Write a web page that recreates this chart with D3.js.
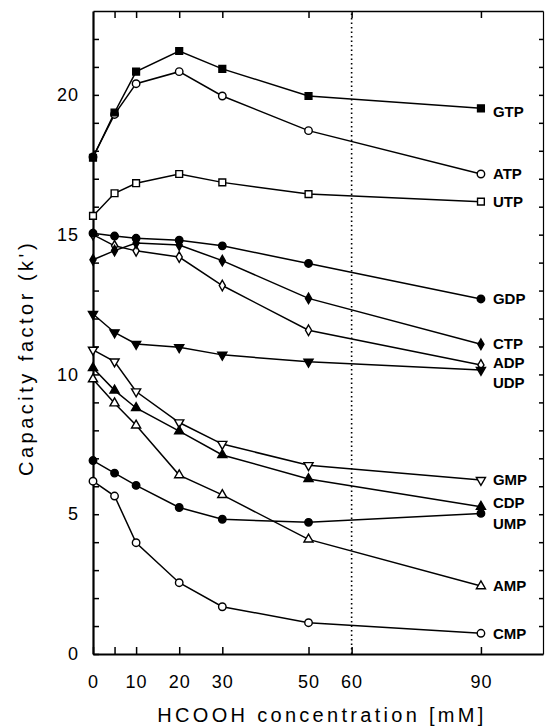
<!DOCTYPE html>
<html>
<head>
<meta charset="utf-8">
<script src="https://cdn.jsdelivr.net/npm/d3@7"></script>
<style>
  body { margin: 0; background: #fff; }
  text { font-family: "Liberation Sans", Arial, sans-serif; fill: #000; }
</style>
</head>
<body>
<svg id="chart" width="545" height="727"></svg>
<script>
// HCOOH concentrations (mM) at which capacity factors were measured
const concentrations = [0, 5, 10, 20, 30, 50, 90];
const xMajorTicks = [0, 5, 10, 20, 30, 50, 60, 90];
const xTickLabels = [0, 10, 20, 30, 50, 60, 90];
const yTickLabels = [0, 5, 10, 15, 20];
const markerLine = 60;

// Capacity factor k' for each nucleotide
const nucleotides = ["GTP", "ATP", "UTP", "GDP", "CTP", "ADP", "UDP", "GMP", "CDP", "AMP", "UMP", "CMP"];
const GTP = [17.75, 19.37, 20.83, 21.57, 20.93, 19.96, 19.52];
const ATP = [17.78, 19.30, 20.40, 20.83, 19.96, 18.72, 17.17];
const UTP = [15.67, 16.48, 16.84, 17.17, 16.87, 16.45, 16.18];
const GDP = [15.05, 14.95, 14.87, 14.80, 14.60, 13.97, 12.70];
const CTP = [14.10, 14.43, 14.70, 14.63, 14.07, 12.72, 11.08];
const ADP = [15.00, 14.60, 14.42, 14.20, 13.18, 11.58, 10.34];
const UDP = [12.16, 11.50, 11.09, 10.97, 10.70, 10.45, 10.16];
const GMP = [10.88, 10.46, 9.39, 8.28, 7.51, 6.75, 6.22];
const CDP = [10.23, 9.43, 8.80, 7.97, 7.12, 6.26, 5.27];
const AMP = [9.83, 8.97, 8.18, 6.40, 5.69, 4.10, 2.43];
const UMP = [6.92, 6.47, 6.03, 5.24, 4.82, 4.71, 5.03];
const CMP = [6.18, 5.65, 3.98, 2.55, 1.69, 1.12, 0.74];
const seriesValues = [GTP, ATP, UTP, GDP, CTP, ADP, UDP, GMP, CDP, AMP, UMP, CMP];

// Marker style per nucleotide: shape and whether it is filled
const shapes = ["square", "circle", "square", "circle", "diamond", "diamond",
                "triangleDown", "triangleDown", "triangleUp", "triangleUp", "circle", "circle"];
const filled = [true, false, false, true, true, false, true, false, true, false, true, false];
// vertical nudge (px) of end labels that would otherwise collide
const labelNudge = [3, 0, 0, 0, 0, -2, 13, 0, -4, 0, 10, 0];

const svg = d3.select("#chart");
const x = d3.scaleLinear().domain([0, 104.4]).range([93, 543]);
const y = d3.scaleLinear().domain([0, 23]).range([654, 11]);

// Frame axes with inward ticks
const axisStyle = (g, w) => {
  g.select(".domain").attr("stroke", "#000").attr("stroke-width", w);
  g.selectAll(".tick line").attr("stroke", "#000").attr("stroke-width", 1.5);
};

svg.append("g")
  .attr("transform", `translate(0,${y(0)})`)
  .call(d3.axisBottom(x).tickValues(xMajorTicks).tickSizeInner(-7).tickSizeOuter(0)
    .tickPadding(21).tickFormat(d => xTickLabels.includes(d) ? d : ""))
  .call(g => axisStyle(g, 2))
  .call(g => g.selectAll("text").attr("font-size", 18).attr("letter-spacing", 1)
    .attr("font-family", "Liberation Sans, Arial, sans-serif"));

svg.append("g")
  .attr("transform", `translate(0,${y(23)})`)
  .call(d3.axisTop(x).tickValues(xMajorTicks.filter(d => d > 0)).tickSizeInner(-7).tickSizeOuter(0).tickFormat(""))
  .call(g => axisStyle(g, 1.6));

svg.append("g")
  .attr("transform", `translate(${x(0)},0)`)
  .call(d3.axisLeft(y).tickValues(d3.range(0, 23)).tickSizeInner(-6).tickSizeOuter(0)
    .tickPadding(14).tickFormat(d => yTickLabels.includes(d) ? d : ""))
  .call(g => axisStyle(g, 2.2))
  .call(g => g.selectAll("text").attr("font-size", 18).attr("letter-spacing", 1)
    .attr("font-family", "Liberation Sans, Arial, sans-serif"));

svg.append("g")
  .attr("transform", `translate(${x(104.4)},0)`)
  .call(d3.axisRight(y).tickValues(d3.range(1, 23)).tickSizeInner(-4).tickSizeOuter(0).tickFormat(""))
  .call(g => axisStyle(g, 1.2));

// Dotted reference line at 60 mM
svg.append("line")
  .attr("x1", x(markerLine)).attr("x2", x(markerLine))
  .attr("y1", y(0)).attr("y2", y(23))
  .attr("stroke", "#000").attr("stroke-width", 1.6)
  .attr("stroke-dasharray", "1.5,3");

// Series lines
const line = d3.line().x((d, i) => x(concentrations[i])).y(d => y(d));
svg.append("g").selectAll("path")
  .data(seriesValues)
  .join("path")
  .attr("d", line)
  .attr("fill", "none")
  .attr("stroke", "#000")
  .attr("stroke-width", 1.5);

// Markers: open symbols first so filled ones sit on top where they coincide
const symbolFor = {
  square: d3.symbol().type(d3.symbolSquare).size(46),
  circle: d3.symbol().type(d3.symbolCircle).size(44),
  diamond: d3.symbol().type(d3.symbolDiamond).size(32),
  triangleUp: d3.symbol().type(d3.symbolTriangle).size(36),
  triangleDown: d3.symbol().type(d3.symbolTriangle).size(36)
};
const order = d3.range(nucleotides.length).sort((a, b) => d3.ascending(filled[a], filled[b]));
const markers = svg.append("g");
order.forEach(s => {
  markers.append("g").selectAll("path")
    .data(seriesValues[s])
    .join("path")
    .attr("d", symbolFor[shapes[s]]())
    .attr("transform", (d, i) => `translate(${x(concentrations[i])},${y(d)})` +
      (shapes[s] === "triangleDown" ? " rotate(180)" : ""))
    .attr("fill", filled[s] ? "#000" : "#fff")
    .attr("stroke", "#000")
    .attr("stroke-width", 1.4);
});

// End-of-line labels
svg.append("g").selectAll("text")
  .data(nucleotides)
  .join("text")
  .attr("x", x(90) + 12)
  .attr("y", (d, i) => y(seriesValues[i][seriesValues[i].length - 1]) + labelNudge[i])
  .attr("dy", "0.35em")
  .attr("font-size", 15)
  .attr("font-weight", "bold")
  .text(d => d);

// Axis titles
svg.append("text")
  .attr("x", 322).attr("y", 722)
  .attr("text-anchor", "middle")
  .attr("font-size", 20)
  .attr("letter-spacing", 3.3)
  .text("HCOOH concentration [mM]");

svg.append("text")
  .attr("transform", "translate(33,358) rotate(-90)")
  .attr("text-anchor", "middle")
  .attr("font-size", 20)
  .attr("letter-spacing", 3.5)
  .text("Capacity factor (k')");
</script>
</body>
</html>
